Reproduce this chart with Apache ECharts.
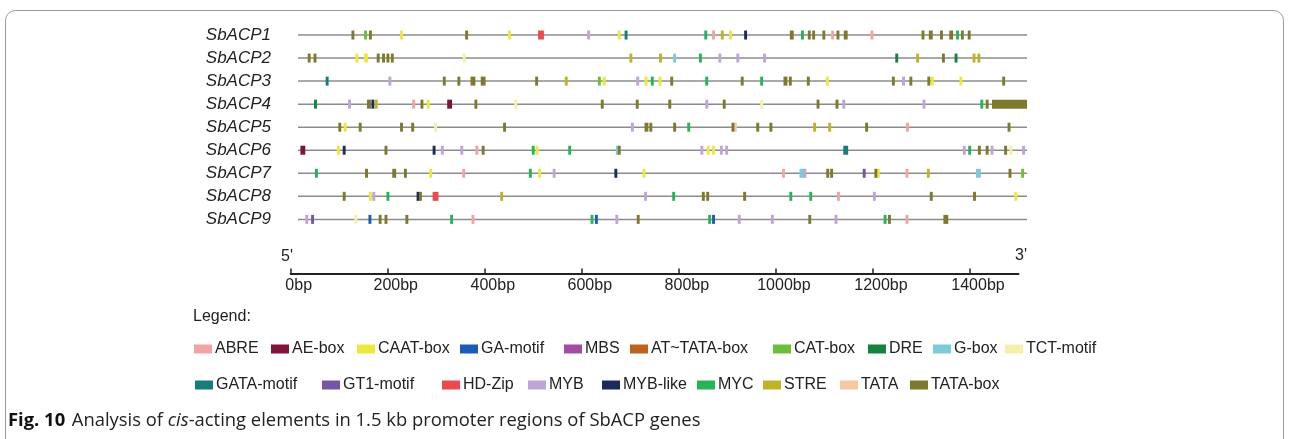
<!DOCTYPE html>
<html>
<head>
<meta charset="utf-8">
<script src="https://cdn.jsdelivr.net/npm/echarts@6/dist/echarts.min.js"></script>
<style>
  html, body { margin: 0; padding: 0; background: #fff; }
  #chart { width: 1290px; height: 439px; }
</style>
</head>
<body>
<div id="chart"></div>
<script>
// genes (rows, top to bottom)
var genes = ['SbACP1', 'SbACP2', 'SbACP3', 'SbACP4', 'SbACP5', 'SbACP6', 'SbACP7', 'SbACP8', 'SbACP9'];
var promoterLen = 1500;
var rulerTicks = [0, 200, 400, 600, 800, 1000, 1200, 1400];

// element types, in legend order
var elementNames = ['ABRE', 'AE-box', 'CAAT-box', 'GA-motif', 'MBS', 'AT~TATA-box', 'CAT-box', 'DRE', 'G-box', 'TCT-motif',
  'GATA-motif', 'GT1-motif', 'HD-Zip', 'MYB', 'MYB-like', 'MYC', 'STRE', 'TATA', 'TATA-box'];
var elementColors = ['#f3a3a6', '#7e1538', '#efe83c', '#1c5cb5', '#a44ba3', '#c0621f', '#6bbf3a', '#17813f', '#7dcad9', '#f4f0aa',
  '#167e78', '#7654a6', '#eb4a4e', '#bfa6d6', '#1c2a5c', '#27b35a', '#bdb42a', '#f7c9a0', '#7d7a2e'];

// sites: [position bp, gene index, (length bp)]
var ABRE = [[855,0],[1100,0],[1181,0],[238,3],[1254,4],[368,5],[341,6],[999,6],[1253,6],[1112,7],[360,8],[1253,8]];
var AEbox = [[312,3,10],[10,5,10]];
var CAATbox = [[213,0],[435,0],[661,0],[890,0],[121,1],[140,1,8],[630,2],[716,2],[745,2],[1089,2],[1305,2],[1364,2],
  [268,3],[97,4],[83,5],[492,5],[844,5],[855,5],[273,6],[497,6],[712,6],[1194,6],[149,7],[1477,7]];
var GAmotif = [[148,8],[614,8],[855,8]];
var MBS = [];
var ATTATAbox = [];
var CATbox = [[139,0],[620,2],[1491,6]];
var DRE = [[1232,1],[1354,1],[36,3]];
var Gbox = [[775,1],[657,5],[1037,6,10],[1400,6,10]];
var TCTmotif = [[342,1],[448,3],[954,3],[283,4],[1467,5],[119,8]];
var GATAmotif = [[675,0],[60,2],[1127,5,10]];
var GT1motif = [[1165,6],[30,8]];
var HDZip = [[500,0,12],[283,7,12]];
var MYB = [[598,0],[868,1],[905,1],[960,1],[189,2],[699,2],[1246,2],[106,3],[841,3],[1123,3],[1288,3],[688,4],
  [297,5],[337,5],[831,5],[871,5],[882,5],[1371,5],[1428,5],[1493,5],[527,6],[1043,6],[156,7],[715,7],[1186,7],
  [18,8],[656,8],[908,8],[976,8],[1107,8]];
var MYBlike = [[921,0],[154,3],[95,5],[280,5],[654,6],[247,7]];
var MYC = [[839,0],[1038,0],[1357,0],[828,1],[729,2],[841,2],[954,2],[1407,3],[804,4],[484,5],[559,5],[1382,5],
  [38,6],[478,6],[185,7],[773,7],[1014,7],[1055,7],[316,8],[605,8],[847,8],[1208,8]];
var STRE = [[873,0],[685,1],[746,1],[1275,1],[1391,1],[1401,1],[552,2],[161,3],[1063,4],[1094,4],[1297,6],[419,7]];
var TATA = [[900,4]];
var TATAbox = [[113,0],[149,0],[347,0],[1016,0,8],[1052,0],[1061,0],[1082,0],[1111,0],[1127,0,8],[1286,0],[1302,0,8],
  [1324,0],[1344,0,8],[1367,0],[1381,0],
  [23,1],[35,1],[165,1],[176,1],[185,1],[194,1],[1328,1],
  [301,2],[331,2],[360,2,10],[381,2,10],[491,2],[769,2],[914,2],[1003,2,8],[1013,2],[1050,2],[1225,2],[1261,2],[1298,2],[1452,2],
  [146,3,8],[255,3],[366,3],[626,3],[698,3],[765,3],[877,3],[1070,3],[1109,3],[1418,3],[1464,3,72],
  [86,4],[128,4],[213,4],[236,4],[425,4],[717,4,8],[726,4],[775,4],[895,4],[946,4],[973,4],[1170,4],[1463,4],
  [181,5],[381,5],[661,5],[1402,5],[1418,5],[1456,5],
  [141,6],[198,6,8],[221,6],[1090,6],[1098,6],[1189,6],[1465,6],
  [95,7],[252,7],[834,7],[843,7],[919,7],[1303,7],[1392,7],
  [169,8],[181,8],[224,8],[700,8],[1053,8],[1217,8],[1333,8,10]];
var elementSites = [ABRE, AEbox, CAATbox, GAmotif, MBS, ATTATAbox, CATbox, DRE, Gbox, TCTmotif,
  GATAmotif, GT1motif, HDZip, MYB, MYBlike, MYC, STRE, TATA, TATAbox];

// legend layout (swatch left x, row)
var legendLeft = [194, 271, 357, 460, 564, 630, 773, 868, 933, 1005,
  195, 322, 442, 528, 602, 697, 763, 840, 910];
var legendRowTop = [341, 377];

var font = '"Liberation Sans", Arial, sans-serif';

function renderSite(params, api) {
  var pos = api.value(0), gene = api.value(1), len = api.value(2);
  var a = api.coord([pos - len / 2, gene]);
  var b = api.coord([pos + len / 2, gene]);
  return {
    type: 'rect',
    shape: { x: a[0], y: a[1] - 4.5, width: Math.max(b[0] - a[0], 2.6), height: 9 },
    style: { fill: api.visual('color') }
  };
}

function renderBackbone(params, api) {
  var a = api.coord([api.value(0), api.value(2)]);
  var b = api.coord([api.value(1), api.value(2)]);
  return {
    type: 'line',
    shape: { x1: a[0], y1: a[1], x2: b[0], y2: b[1] },
    style: { stroke: '#8c8c8c', lineWidth: 1.5 }
  };
}

var series = [{
  name: 'backbone',
  type: 'custom',
  xAxisIndex: 0, yAxisIndex: 0,
  renderItem: renderBackbone,
  encode: { x: [0, 1], y: 2 },
  data: genes.map(function (g, i) { return [0, promoterLen, i]; }),
  silent: true, z: 1
}];
elementNames.forEach(function (name, k) {
  series.push({
    name: name,
    type: 'custom',
    xAxisIndex: 0, yAxisIndex: 0,
    color: elementColors[k],
    renderItem: renderSite,
    encode: { x: 0, y: 1 },
    data: elementSites[k].map(function (d) { return [d[0], d[1], d[2] || 6]; }),
    z: 2
  });
});
// ruler needs one series on its grid
series.push({ type: 'line', xAxisIndex: 1, yAxisIndex: 1, data: [], silent: true });

var legends = elementNames.map(function (name, k) {
  return {
    data: [name],
    left: legendLeft[k],
    top: legendRowTop[k < 10 ? 0 : 1],
    padding: 0,
    itemWidth: 18, itemHeight: 9,
    itemStyle: { borderWidth: 0 },
    icon: 'rect',
    selectedMode: false,
    textStyle: { fontFamily: font, fontSize: 16, color: '#222', padding: [0, 0, 0, -2] }
  };
});

var option = {
  animation: false,
  backgroundColor: '#fff',
  grid: [
    { left: 298, width: 729, top: 23.5, height: 207.4 },
    { left: 290.7, width: 727.8, top: 250, height: 23.5 }
  ],
  xAxis: [
    { gridIndex: 0, type: 'value', min: 0, max: promoterLen, show: false },
    {
      gridIndex: 1, type: 'value', min: 0, max: promoterLen, position: 'bottom',
      splitLine: { show: false },
      axisLine: { lineStyle: { color: '#222', width: 2 } },
      axisTick: { inside: true, length: 5, customValues: rulerTicks, lineStyle: { color: '#222', width: 1.5 } },
      axisLabel: {
        customValues: rulerTicks,
        formatter: function (v) { return v + 'bp'; },
        fontFamily: font, fontSize: 16, color: '#222',
        margin: 4, padding: [0, 0, 0, 16]
      }
    }
  ],
  yAxis: [
    {
      gridIndex: 0, type: 'category', data: genes, inverse: true,
      axisLine: { show: false }, axisTick: { show: false }, splitLine: { show: false },
      axisLabel: { fontFamily: font, fontStyle: 'italic', fontSize: 17, color: '#222', margin: 27 }
    },
    { gridIndex: 1, type: 'value', show: false }
  ],
  legend: legends,
  graphic: [
    {
      type: 'rect', silent: true,
      shape: { x: 5.5, y: 10.5, width: 1278, height: 442, r: 10 },
      style: { fill: 'none', stroke: '#9a9a9a', lineWidth: 1 }
    },
    { type: 'text', left: 281, top: 249, style: { text: "5'", font: '16px ' + font, fill: '#222' } },
    { type: 'text', left: 1015, top: 248, style: { text: "3'", font: '16px ' + font, fill: '#222' } },
    { type: 'text', left: 193, top: 309, style: { text: 'Legend:', font: '16px ' + font, fill: '#222' } },
    {
      type: 'text', left: 8, top: 412,
      style: {
        text: '{b|Fig. 10}  {n|Analysis of }{i|cis}{n|-acting elements in 1.5 kb promoter regions of SbACP genes}',
        rich: {
          b: { fontFamily: 'Open Sans', fontWeight: 'bold', fontSize: 18.4, fill: '#111' },
          n: { fontFamily: 'Open Sans', fontSize: 18.4, fill: '#222' },
          i: { fontFamily: 'Open Sans', fontStyle: 'italic', fontSize: 18.4, fill: '#222' }
        }
      }
    }
  ],
  series: series
};

echarts.init(document.getElementById('chart')).setOption(option);
</script>
</body>
</html>
